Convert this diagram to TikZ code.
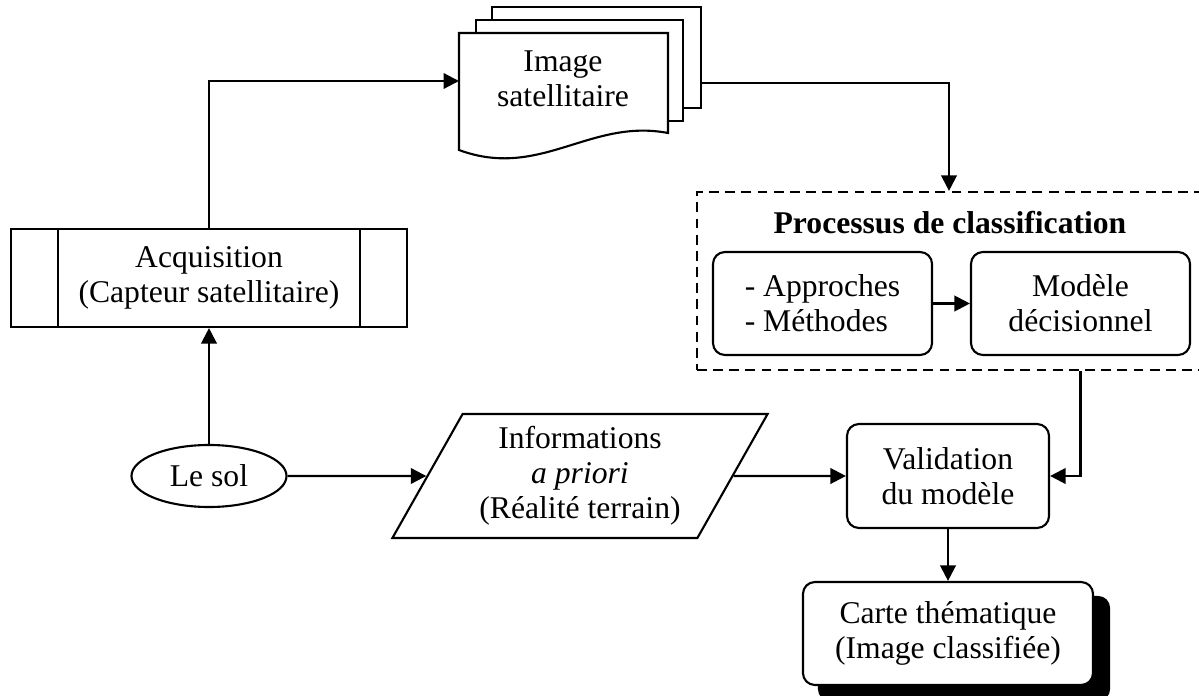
\documentclass[tikz,border=0pt]{standalone}
\usepackage{fontspec}
\setmainfont{Liberation Serif}
\usepackage{tikz}
\usetikzlibrary{arrows,arrows.meta,calc,shapes.geometric}
\pgfdeclarelayer{background}
\pgfsetlayers{background,main}
\tikzset{
  every node/.style={font=\fontsize{22.5}{25}\selectfont, align=center, inner sep=0pt},
  box/.style={draw, rounded corners=0.3cm},
  conn/.style={line width=1.6pt, -{Triangle[length=11pt,width=11pt]}},
}

\begin{document}
\begin{tikzpicture}[x=0.025cm,y=-0.025cm,line width=1.5pt]
    \useasboundingbox (0,0) rectangle (1199,696);
    % stack of pages
    \filldraw[fill=white] (492,7) rectangle (701,108);
    \filldraw[fill=white] (476,20) rectangle (683,121);
    \filldraw[fill=white] (459,33) -- (668,33) -- (668,133) .. controls (590,118) and (540,180) .. (459,150) -- cycle;
    \node (img) at (563,79) {Image\\satellitaire};
    \coordinate (imgin) at (459,81);
    \coordinate (imgout) at (701,83);
    % left column
    \node[draw, minimum width=9.9cm, minimum height=2.45cm] (acq) at (209,278) {Acquisition\\(Capteur satellitaire)};
    \draw ($(acq.north west)+(48,0)$) -- ($(acq.south west)+(48,0)$);
    \draw ($(acq.north east)+(-48,0)$) -- ($(acq.south east)+(-48,0)$);
    \node[draw, ellipse, minimum width=3.875cm, minimum height=1.55cm] (sol) at (209,476) {Le sol};
    \node[draw, trapezium, trapezium left angle=58.8, trapezium right angle=121.2, trapezium stretches=true, minimum width=9.4cm, minimum height=3.1cm] (info) at (580,476) {Informations\\\textit{a priori}\\(R\'ealit\'e terrain)};
    % classification
    \node[draw, dash pattern=on 7pt off 4.5pt, minimum width=12.6cm, minimum height=4.45cm] (proc) at (949,281) {};
    \node[font=\fontsize{22.5}{25}\selectfont\bfseries] (title) at (950,223) {Processus de classification};
    \node[box, align=left, minimum width=5.475cm, minimum height=2.575cm] (app) at (822.5,303.5) {- Approches\\- M\'ethodes};
    \node[box, minimum width=5.475cm, minimum height=2.575cm] (mod) at (1080.5,303.5) {Mod\`ele\\d\'ecisionnel};
    \node[box, minimum width=5.05cm, minimum height=2.6cm] (val) at (948,476) {Validation\\du mod\`ele};
    \node[box, fill=white, minimum width=7.25cm, minimum height=2.575cm] (carte) at (948,633.5) {Carte th\'ematique\\(Image classifi\'ee)};
    \begin{pgfonlayer}{background}
    \fill[rounded corners=0.3cm] ($(carte.south west)+(16,15)$) rectangle ($(carte.north east)+(16,15)$);
    \end{pgfonlayer}
    % connectors
    \draw[conn] (acq.north) |- (imgin);
    \draw[conn] (imgout) -| (proc.north);
    \draw[conn] (sol.north) -- (acq.south);
    \draw[conn] (sol.east) -- (info.west);
    \draw[conn] (info.east) -- (val.west);
    \draw[conn] (app) -- (mod);
    \draw[conn] (mod |- proc.south) |- (val.east);
    \draw[conn] (val) -- (carte);
  \end{tikzpicture}
\end{document}
